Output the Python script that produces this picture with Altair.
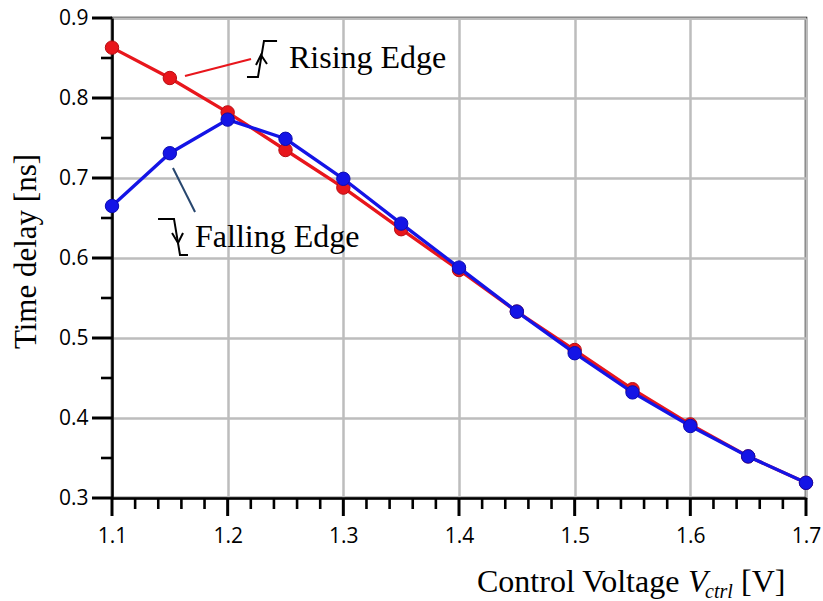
import altair as alt
import pandas as pd

# ---- data ----
volt = [1.10, 1.15, 1.20, 1.25, 1.30, 1.35, 1.40, 1.45, 1.50, 1.55, 1.60, 1.65, 1.70]
rising = [0.863, 0.825, 0.782, 0.735, 0.688, 0.636, 0.585, 0.533, 0.485, 0.436, 0.392, 0.352, 0.319]
falling = [0.665, 0.731, 0.773, 0.749, 0.699, 0.643, 0.588, 0.533, 0.481, 0.432, 0.390, 0.352, 0.319]

x_major = [1.1, 1.2, 1.3, 1.4, 1.5, 1.6, 1.7]
x_minor = [1.12, 1.14, 1.16, 1.18, 1.22, 1.24, 1.26, 1.28, 1.32, 1.34, 1.36, 1.38,
           1.42, 1.44, 1.46, 1.48, 1.52, 1.54, 1.56, 1.58, 1.62, 1.64, 1.66, 1.68]
y_major = [0.3, 0.4, 0.5, 0.6, 0.7, 0.8, 0.9]
y_minor = [0.35, 0.45, 0.55, 0.65, 0.75, 0.85]

# annotation geometry (data units)
rise_glyph_x = [1.2167, 1.2262, 1.2314, 1.2427]
rise_glyph_y = [0.8263, 0.8263, 0.8713, 0.8713]
rise_arrow_x = [1.2245, 1.2288, 1.2340]
rise_arrow_y = [0.8413, 0.8538, 0.8425]
fall_glyph_x = [1.1398, 1.1536, 1.1588, 1.1657]
fall_glyph_y = [0.6488, 0.6488, 0.6038, 0.6038]
fall_arrow_x = [1.1519, 1.1571, 1.1614]
fall_arrow_y = [0.6313, 0.6188, 0.6313]
rise_leader_x = [1.1631, 1.2202]
rise_leader_y = [0.8275, 0.8488]
fall_leader_x = [1.1527, 1.1718]
fall_leader_y = [0.7125, 0.6575]

labels = ["Rising Edge", "Falling Edge"]
label_x = [1.2530, 1.1718]
label_y = [0.8375, 0.6138]

RED = "#e8161c"
BLUE = "#1414e6"

# ---- frames ----
df_r = pd.DataFrame({"v": volt, "t": rising})
df_f = pd.DataFrame({"v": volt, "t": falling})

def path_df(xs, ys, seg):
    return pd.DataFrame({"v": xs, "t": ys, "seg": seg, "ord": list(range(len(xs)))})

glyphs = pd.concat([
    path_df(rise_glyph_x, rise_glyph_y, "rg"),
    path_df(rise_arrow_x, rise_arrow_y, "ra"),
    path_df(fall_glyph_x, fall_glyph_y, "fg"),
    path_df(fall_arrow_x, fall_arrow_y, "fa"),
])
leader_r = path_df(rise_leader_x, rise_leader_y, "lr")
leader_f = path_df(fall_leader_x, fall_leader_y, "lf")
df_lab = pd.DataFrame({"v": label_x, "t": label_y, "label": labels})

xs = alt.Scale(domain=[1.1, 1.7], nice=False, zero=False)
ys = alt.Scale(domain=[0.3, 0.9], nice=False, zero=False)

H = 480
X_MAJ, X_MIN = 18, 11   # tick lengths (px)
Y_MAJ, Y_MIN = 20, 11

x_axis = alt.Axis(values=x_major, format=".1f", title=None, ticks=False,
                  labelFlush=False, labelOverlap=False,
                  labelFont="Open Sans", labelFontSize=21, labelColor="black",
                  labelPadding=X_MAJ + 9,
                  grid=True, gridColor="#bdbdbd", gridWidth=2.5,
                  domainColor="black", domainWidth=2.5)
y_axis = alt.Axis(values=y_major, format=".1f", ticks=False,
                  labelFlush=False, labelOverlap=False,
                  labelFont="Open Sans", labelFontSize=21, labelColor="black",
                  labelPadding=Y_MAJ + 4,
                  grid=True, gridColor="#bdbdbd", gridWidth=2.5,
                  domainColor="black", domainWidth=2.5,
                  title="Time delay [ns]", titleFont="Liberation Serif",
                  titleFontSize=31, titleFontWeight="normal", titleColor="black",
                  titleAngle=270, titleAlign="center", titleBaseline="alphabetic",
                  titleX=-77, titleY=233)

# tick marks drawn from the tick-value arrays through the scales
def xticks(vals, length, w):
    return alt.Chart(pd.DataFrame({"v": vals})).mark_rule(
        color="black", strokeWidth=w).encode(
        x="v:Q", y=alt.value(H), y2=alt.value(H + length))

def yticks(vals, length, w):
    return alt.Chart(pd.DataFrame({"t": vals})).mark_rule(
        color="black", strokeWidth=w).encode(
        y="t:Q", x=alt.value(0), x2=alt.value(-length))

red_line = alt.Chart(df_r).mark_line(color=RED, strokeWidth=3.3).encode(
    x=alt.X("v:Q", scale=xs, axis=x_axis),
    y=alt.Y("t:Q", scale=ys, axis=y_axis),
)
red_pts = alt.Chart(df_r).mark_point(filled=True, size=180, color=RED, opacity=1,
                                     stroke="#b80d12", strokeWidth=1).encode(
    x="v:Q", y="t:Q",
)
blue_line = alt.Chart(df_f).mark_line(color=BLUE, strokeWidth=3.3).encode(
    x="v:Q", y="t:Q",
)
blue_pts = alt.Chart(df_f).mark_point(filled=True, size=180, color=BLUE, opacity=1,
                                      stroke="#0b0bb0", strokeWidth=1).encode(
    x="v:Q", y="t:Q",
)

glyph_layer = alt.Chart(glyphs).mark_line(color="black", strokeWidth=2).encode(
    x="v:Q", y="t:Q", detail="seg:N", order="ord:Q",
)
leader_r_layer = alt.Chart(leader_r).mark_line(color=RED, strokeWidth=2.2).encode(
    x="v:Q", y="t:Q", order="ord:Q",
)
leader_f_layer = alt.Chart(leader_f).mark_line(color="#27466e", strokeWidth=2).encode(
    x="v:Q", y="t:Q", order="ord:Q",
)
label_layer = alt.Chart(df_lab).mark_text(font="Liberation Serif", fontSize=32,
                                          align="left", baseline="alphabetic",
                                          color="black").encode(
    x="v:Q", y="t:Q", text="label:N",
)

# x-axis title with italic subscripted variable
def title_part(txt, x, y, size=32, style="normal"):
    return alt.Chart(pd.DataFrame({"s": [txt]})).mark_text(
        font="Liberation Serif", fontSize=size, fontStyle=style, align="left",
        baseline="alphabetic", color="black").encode(
        x=alt.value(x), y=alt.value(y), text="s:N")

xt1 = title_part("Control Voltage", 365, 574)
xt2 = title_part("V", 576, 574, style="italic")
xt3 = title_part("ctrl", 593, 580, size=20, style="italic")
xt4 = title_part("[V]", 629, 574)

chart = alt.layer(
    red_line,
    xticks(x_minor, X_MIN, 2.6), yticks(y_minor, Y_MIN, 2.6),
    xticks(x_major, X_MAJ, 3), yticks(y_major, Y_MAJ, 3),
    red_pts, blue_line, blue_pts,
    glyph_layer, leader_r_layer, leader_f_layer, label_layer,
    xt1, xt2, xt3, xt4,
).properties(
    width=694, height=H,
    autosize=alt.AutoSizeParams(type="none"),
    padding={"left": 112, "top": 18, "right": 17, "bottom": 103},
    background="white",
).configure_view(
    stroke="black", strokeWidth=2.5
)

chart.save("out.html", embed_options={"renderer": "svg", "actions": False})
